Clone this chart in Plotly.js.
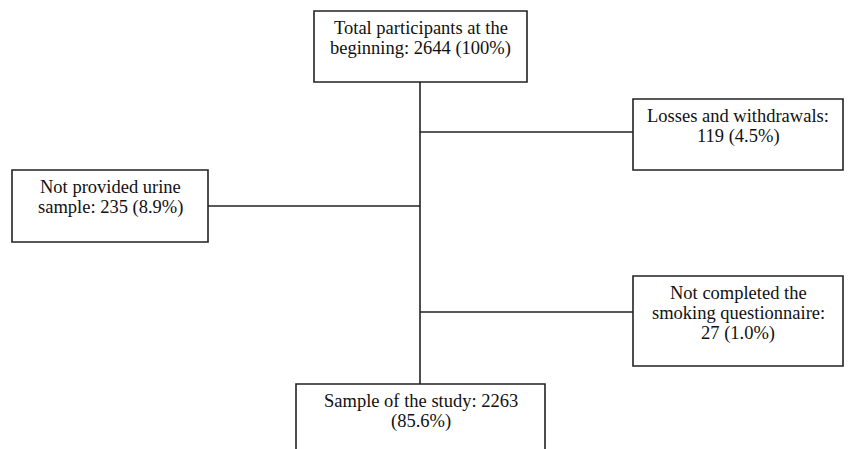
<!DOCTYPE html>
<html><head><meta charset="utf-8">
<script src="https://cdn.plot.ly/plotly-3.0.1.min.js"></script>
<style>html,body{margin:0;padding:0;background:#fff}#chart{width:849px;height:449px}</style>
</head><body><div id="chart"></div>
<script>
// ---- data ----
const stages = ["Total participants at the<br>beginning", "Losses and withdrawals", "Not provided urine<br>sample", "Not completed the<br>smoking questionnaire", "Sample of the study"];
const counts = [2644, 119, 235, 27, 2263];
const percents = ["100%", "4.5%", "8.9%", "1.0%", "85.6%"];

// ---- layout (pixel positions of boxes) ----
const boxes = [
  {x0: 314, x1: 527, y0: 11, y1: 82, brk: ""},
  {x0: 633, x1: 843, y0: 99, y1: 170, brk: "count"},
  {x0: 12, x1: 208, y0: 170, y1: 242, brk: ""},
  {x0: 633, x1: 843, y0: 276, y1: 366, brk: "count"},
  {x0: 296, x1: 545, y0: 384, y1: 470, brk: "pct"}
];
const spineX = 420;
const branchY = [132, 206, 312];
const branchSide = [1, 2, 3];
const firstLine = 17, lineGap = 20;

const lineCol = "#222";
const shapes = [];
const annotations = [];
boxes.forEach((b, i) => {
  shapes.push({type: "rect", xref: "x", yref: "y", x0: b.x0, x1: b.x1, y0: b.y0, y1: b.y1,
    line: {color: lineCol, width: 1.6}, fillcolor: "rgba(0,0,0,0)"});
  const t = stages[i] + ":" + (b.brk === "count" ? "<br>" : " ") + counts[i] +
          (b.brk === "pct" ? "<br>" : " ") + "(" + percents[i] + ")";
  t.split("<br>").forEach((ln, k) => {
    annotations.push({xref: "x", yref: "y", x: (b.x0 + b.x1) / 2, y: b.y0 + firstLine + k * lineGap, text: ln,
      showarrow: false, xanchor: "center", yanchor: "middle", align: "center",
      font: {family: "Liberation Serif, Times New Roman, serif", size: 18.5, color: "#111"}});
  });
});
// spine
shapes.push({type: "line", xref: "x", yref: "y", x0: spineX, x1: spineX, y0: boxes[0].y1, y1: boxes[4].y0,
  line: {color: lineCol, width: 1.6}});
// branches
branchSide.forEach((bi, k) => {
  const b = boxes[bi];
  const xe = b.x0 > spineX ? b.x0 : b.x1;
  shapes.push({type: "line", xref: "x", yref: "y", x0: spineX, x1: xe, y0: branchY[k], y1: branchY[k],
    line: {color: lineCol, width: 1.6}});
});

const layout = {
  width: 849, height: 449,
  margin: {l: 0, r: 0, t: 0, b: 0},
  paper_bgcolor: "#fff", plot_bgcolor: "#fff",
  xaxis: {range: [0, 849], visible: false, fixedrange: true},
  yaxis: {range: [449, 0], visible: false, fixedrange: true},
  shapes: shapes, annotations: annotations, showlegend: false
};
Plotly.newPlot("chart", [{x: [], y: [], type: "scatter", mode: "markers", hoverinfo: "skip"}], layout, {staticPlot: true, displayModeBar: false});
</script></body></html>
